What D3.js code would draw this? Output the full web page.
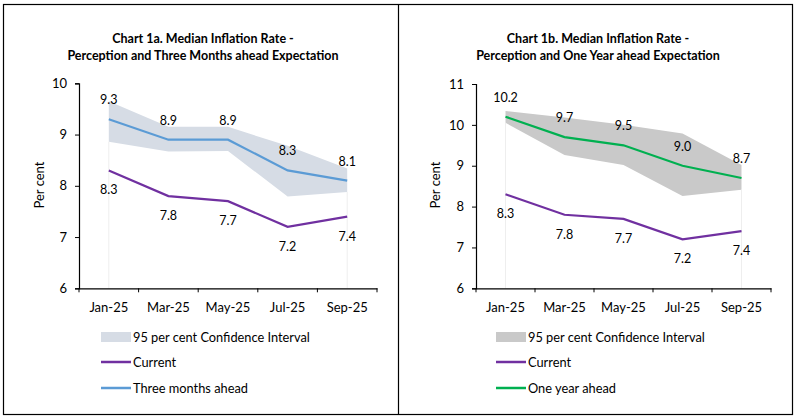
<!DOCTYPE html>
<html>
<head>
<meta charset="utf-8">
<script src="https://cdn.jsdelivr.net/npm/d3@7"></script>
<style>
  body { margin: 0; background: #fff; }
  svg text { font-family: Lato, "Open Sans", sans-serif; fill: #000; }
</style>
</head>
<body>
<svg id="chart" width="795" height="418"></svg>
<script>
// Data
const months = ["Jan-25", "Mar-25", "May-25", "Jul-25", "Sep-25"];
const current = [8.3, 7.8, 7.7, 7.2, 7.4];
const threeMonths = [9.3, 8.9, 8.9, 8.3, 8.1];
const threeMonthsLow = [8.86, 8.67, 8.68, 7.79, 7.88];
const threeMonthsHigh = [9.65, 9.15, 9.15, 8.78, 8.34];
const oneYear = [10.2, 9.7, 9.5, 9.0, 8.7];
const oneYearLow = [10.05, 9.26, 9.02, 8.26, 8.41];
const oneYearHigh = [10.34, 10.18, 10.0, 9.79, 9.02];
const yTicksA = [6, 7, 8, 9, 10];
const yTicksB = [6, 7, 8, 9, 10, 11];

const svg = d3.select("#chart");

// Outer frame with divider
svg.append("rect")
    .attr("x", 3.5).attr("y", 4.5)
    .attr("width", 789).attr("height", 410)
    .style("fill", "none").style("stroke", "#000").style("stroke-width", 1.2);
svg.append("line")
    .attr("x1", 398.5).attr("x2", 398.5).attr("y1", 4.5).attr("y2", 414.5)
    .style("stroke", "#000").style("stroke-width", 1.2);

function drawPanel(p) {
    const g = svg.append("g");

    const x = d3.scaleBand().domain(months).range([p.left, p.right]);
    const y = d3.scaleLinear().domain(p.yDomain).range([288.3, p.yTop]);
    const cx = d => x(d) + x.bandwidth() / 2;

    // Title
    g.append("text")
        .attr("x", p.titleX).attr("y", 43)
        .attr("text-anchor", "middle")
        .style("font-size", "12.5px").style("font-weight", "bold")
        .text(p.title1);
    g.append("text")
        .attr("x", p.titleX).attr("y", 60)
        .attr("text-anchor", "middle")
        .style("font-size", "12.5px").style("font-weight", "bold")
        .text(p.title2);

    // Confidence band
    const band = months.map((m, i) => ({ m: m, lo: p.low[i], hi: p.high[i] }));
    const area = d3.area()
        .x(d => cx(d.m))
        .y0(d => y(d.lo))
        .y1(d => y(d.hi));
    g.append("path")
        .datum(band)
        .attr("d", area)
        .style("fill", p.bandColor);

    // faint drop lines at the ends of the band
    [0, months.length - 1].forEach(i => {
        g.append("line")
            .attr("x1", cx(months[i])).attr("x2", cx(months[i]))
            .attr("y1", y(p.low[i])).attr("y2", y(p.yDomain[0]))
            .style("stroke", "#eeeeee").style("stroke-width", 1);
    });

    // Lines
    const line = d3.line().x(d => cx(d.m)).y(d => y(d.v));
    const curData = months.map((m, i) => ({ m: m, v: current[i] }));
    const expData = months.map((m, i) => ({ m: m, v: p.expect[i] }));

    g.append("path").datum(curData).attr("d", line)
        .style("fill", "none").style("stroke", "#7030a0").style("stroke-width", 2.2);
    g.append("path").datum(expData).attr("d", line)
        .style("fill", "none").style("stroke", p.lineColor).style("stroke-width", 2.2);

    // Data labels
    g.selectAll(".lblExp").data(expData).enter().append("text")
        .attr("x", d => cx(d.m)).attr("y", d => y(d.v) - 15)
        .attr("text-anchor", "middle").style("font-size", "12.5px")
        .text(d => d.v.toFixed(1));
    g.selectAll(".lblCur").data(curData).enter().append("text")
        .attr("x", d => cx(d.m)).attr("y", d => y(d.v) + 24)
        .attr("text-anchor", "middle").style("font-size", "12.5px")
        .text(d => d.v.toFixed(1));

    // Y axis
    const yAxis = g.append("g")
        .attr("transform", `translate(${p.left},0)`)
        .call(d3.axisLeft(y).tickValues(p.yTicks).tickSize(4).tickPadding(8).tickFormat(d3.format("d")));
    yAxis.select(".domain").style("stroke", "#000").style("stroke-width", 1.2);
    yAxis.selectAll("line").style("stroke", "#000");
    yAxis.selectAll("text").style("font-size", "13px").style("font-family", "Lato, sans-serif");

    // X axis
    const xAxis = g.append("g")
        .attr("transform", `translate(0,${y(p.yDomain[0])})`)
        .call(d3.axisBottom(x).tickSize(0).tickPadding(14).tickSizeOuter(0));
    xAxis.select(".domain").style("stroke", "#000").style("stroke-width", 1.2);
    xAxis.selectAll("text").style("font-size", "13px").style("font-family", "Lato, sans-serif");
    const edges = months.map(m => x(m)).concat([p.right]);
    xAxis.selectAll(".edge").data(edges).enter().append("line")
        .attr("x1", d => d).attr("x2", d => d)
        .attr("y1", 0).attr("y2", 4)
        .style("stroke", "#000");

    // Y label
    g.append("text")
        .attr("transform", `translate(${p.yLabelX},185) rotate(-90)`)
        .attr("text-anchor", "middle")
        .style("font-size", "13px")
        .text("Per cent");

    // Legend
    const lx = p.legendX;
    g.append("rect")
        .attr("x", lx).attr("y", 332).attr("width", 30).attr("height", 10)
        .style("fill", p.bandColor);
    g.append("line")
        .attr("x1", lx).attr("x2", lx + 30).attr("y1", 362).attr("y2", 362)
        .style("stroke", "#7030a0").style("stroke-width", 2.5);
    g.append("line")
        .attr("x1", lx).attr("x2", lx + 30).attr("y1", 388).attr("y2", 388)
        .style("stroke", p.lineColor).style("stroke-width", 2.5);
    const legendText = ["95 per cent Confidence Interval", "Current", p.expectName];
    [337, 362, 388].forEach((yy, i) => {
        g.append("text")
            .attr("x", lx + 32).attr("y", yy + 4.5)
            .style("font-size", "12.8px")
            .text(legendText[i]);
    });
}

drawPanel({
    left: 79, right: 377, yTop: 83.3, yDomain: [6, 10], yTicks: yTicksA,
    titleX: 203, title1: "Chart 1a. Median Inflation Rate -",
    title2: "Perception and Three Months ahead Expectation",
    expect: threeMonths, low: threeMonthsLow, high: threeMonthsHigh,
    bandColor: "#d6dce5", lineColor: "#5b9bd5",
    yLabelX: 44, legendX: 101, expectName: "Three months ahead"
});

drawPanel({
    left: 476, right: 771, yTop: 84, yDomain: [6, 11], yTicks: yTicksB,
    titleX: 598, title1: "Chart 1b. Median Inflation Rate -",
    title2: "Perception and One Year ahead Expectation",
    expect: oneYear, low: oneYearLow, high: oneYearHigh,
    bandColor: "#c9c9c9", lineColor: "#00b050",
    yLabelX: 440, legendX: 496, expectName: "One year ahead"
});
</script>
</body>
</html>
